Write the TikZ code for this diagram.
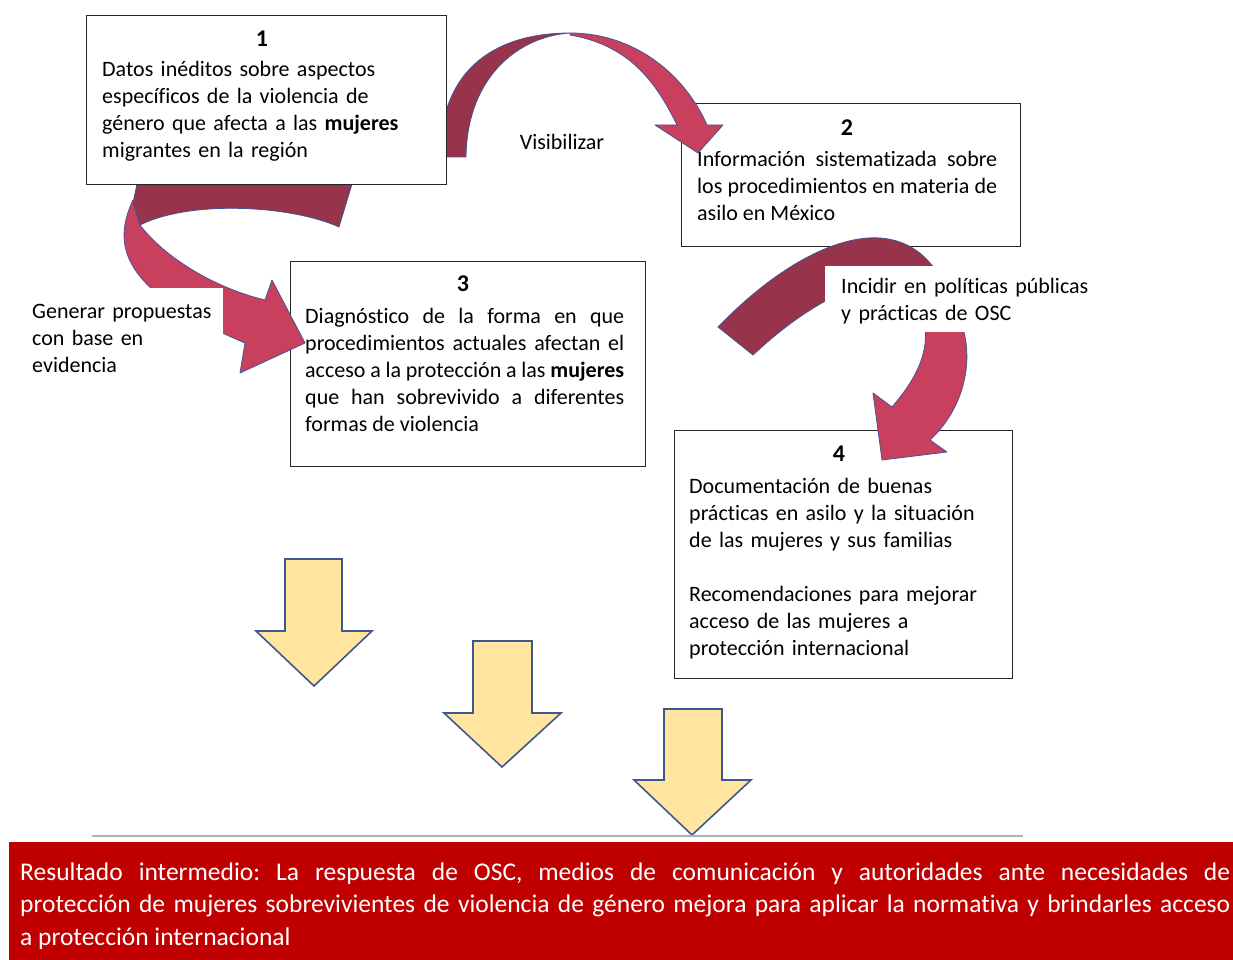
\documentclass[tikz,border=0pt]{standalone}
\usepackage{fontspec}
\setmainfont{Carlito}[Ligatures=NoCommon]
\definecolor{arrDark}{RGB}{151,51,74}
\definecolor{arrLight}{RGB}{201,64,94}
\definecolor{arrEdge}{RGB}{68,84,150}
\definecolor{yelFill}{RGB}{255,229,160}
\definecolor{yelEdge}{RGB}{62,88,140}
\definecolor{bandRed}{RGB}{192,0,0}
\tikzset{
  box/.style={draw=black!85, line width=1pt, fill=white, inner sep=0pt, anchor=north west},
  body/.style={inner sep=0pt, anchor=base west, font=\fontsize{22}{27}\selectfont},
  num/.style={inner sep=0pt, anchor=base, font=\fontsize{24}{27}\selectfont\bfseries},
  darkpart/.style={fill=arrDark, draw=arrEdge, line width=0.8pt, line join=round},
  lightpart/.style={fill=arrLight, draw=arrEdge, line width=0.8pt, line join=round},
  blockarrow/.style={fill=yelFill, draw=yelEdge, line width=1.6pt, line join=miter},
  labelbg/.style={fill=white, draw=none, inner sep=0pt, anchor=north west},
}
\begin{document}
\frenchspacing
\begin{tikzpicture}[x=1pt,y=-1pt]
\useasboundingbox (0,0) rectangle (1233,960);
\fill[white] (0,0) rectangle (1233,960);

% boxes 3 and 2 (under the arrow heads)
\node[box, minimum width=355pt, minimum height=205pt] (b3) at (290,261) {};
\node[box, minimum width=339pt, minimum height=143pt] (b2) at (681,103) {};

% arrow B : box 1 -> box 3
\path[lightpart] (133,200) .. controls (112,245) and (120,290) .. (245,343)
  -- (240,373) -- (305,343) -- (272,280) -- (265,300)
  .. controls (215,288) and (165,258) .. (140,225) -- cycle;
\path[darkpart] (137,184) -- (352,184) -- (339,227)
  .. controls (290,205) and (190,200) .. (140,225) -- (133,203) -- cycle;

% arrow A : box 1 -> box 2 (Visibilizar)
\path[darkpart] (440,157) .. controls (440,65) and (500,33) .. (570,33)
  .. controls (515,37) and (467,80) .. (466,157) -- cycle;
\path[lightpart] (570,33) .. controls (635,33) and (685,75) .. (707,125)
  -- (723,125) -- (698,153) -- (655,125) -- (677,125)
  .. controls (655,80) and (628,45) .. (570,35) -- cycle;

% box 1 (over the arrow tails)
\node[box, minimum width=360pt, minimum height=169pt] (b1) at (86,15) {};

% box 4
\node[box, minimum width=338pt, minimum height=248pt] (b4) at (674,430) {};

% arrow C : box 2 -> box 4 (Incidir)
\path[darkpart] (718,327) .. controls (775,268) and (835,235) .. (880,238)
  .. controls (920,241) and (940,270) .. (950,300) -- (918,300)
  .. controls (905,285) and (880,278) .. (860,285)
  .. controls (820,300) and (785,325) .. (753,355) -- cycle;
\path[lightpart] (950,300) .. controls (980,345) and (968,405) .. (930,440)
  -- (947,452) -- (882,460) -- (873,393) -- (892,407)
  .. controls (915,380) and (938,345) .. (918,300) -- cycle;

% label backgrounds
\node[labelbg, minimum width=201pt, minimum height=95pt] (bgB) at (22,288) {};
\node[labelbg, minimum width=270pt, minimum height=66pt] (bgC) at (825,266) {};

% labels
\node[body, anchor=base] (lA) at (562,150) {Visibilizar};
\node[body, text width=200pt, align=left] (lB) at (32,318)
  {Generar propuestas\\con base en\\evidencia};
\node[body, text width=260pt, align=left] (lC) at (841,293)
  {Incidir en políticas públicas\\y prácticas de OSC};

% box texts
\node[num] (n1) at (262,46.5) {1};
\node[body, text width=330pt, align=left] (t1) at (102,77)
  {Datos inéditos sobre aspectos\\específicos de la violencia de\\género que afecta a las \textbf{mujeres}\\migrantes en la región};

\node[num] (n2) at (847,135.5) {2};
\node[body, text width=300pt, align=justify] (t2) at (697,166.5)
  {Información sistematizada sobre\linebreak los procedimientos en materia de\linebreak asilo en México};

\node[num] (n3) at (463,291.5) {3};
\node[body, text width=319pt, align=justify] (t3) at (305,323)
  {Diagnóstico de la forma en que\linebreak procedimientos actuales afectan el\linebreak acceso a la protección a las \textbf{mujeres}\linebreak que han sobrevivido a diferentes\linebreak formas de violencia};

\node[num] (n4) at (839,461.5) {4};
\node[body, text width=315pt, align=left] (t4) at (689,493)
  {Documentación de buenas\\prácticas en asilo y la situación\\de las mujeres y sus familias\\[27pt]Recomendaciones para mejorar\\acceso de las mujeres a\\protección internacional};

% yellow block arrows
\path[blockarrow] (285,559) -- (342,559) -- (342,631) -- (372,631) -- (314,686) -- (256,631) -- (285,631) -- cycle;
\path[blockarrow] (473,641) -- (532,641) -- (532,713) -- (561,713) -- (502,767) -- (444,713) -- (473,713) -- cycle;
\path[blockarrow] (664,709) -- (722,709) -- (722,780) -- (751,780) -- (692,835) -- (634,780) -- (664,780) -- cycle;

% separator and result band
\coordinate (sepL) at (92,836);
\coordinate (sepR) at (1023,836);
\draw[black!30, line width=1.2pt] (sepL) -- (sepR);
\node[fill=bandRed, inner sep=0pt, anchor=north west, minimum width=1224pt, minimum height=118pt] (band) at (9,842) {};
\node[inner sep=0pt, anchor=base west, text width=1210pt, align=justify, text=white,
  font=\fontsize{25.5}{32.5}\selectfont] (res) at (20,880)
  {Resultado intermedio: La respuesta de OSC, medios de comunicación y autoridades ante necesidades de\linebreak protección de mujeres sobrevivientes de violencia de género mejora para aplicar la normativa y brindarles acceso\linebreak a protección internacional};
\end{tikzpicture}
\end{document}
